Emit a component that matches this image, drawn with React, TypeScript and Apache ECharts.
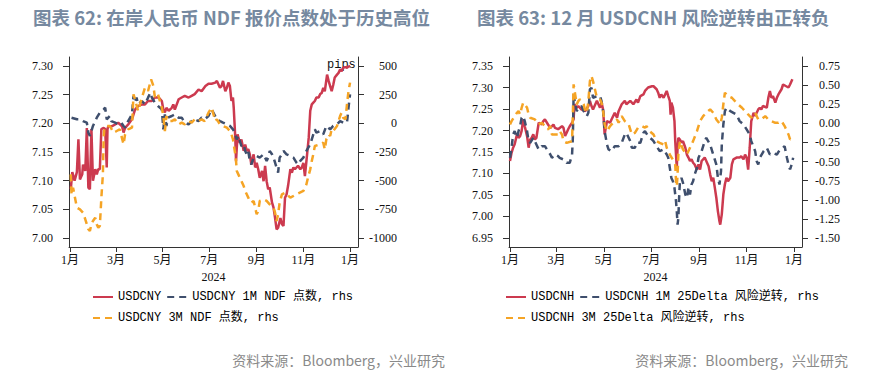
import React, { useEffect, useRef } from 'react';
import * as echarts from 'echarts';

// ---------- axis ticks ----------
const monthDays = [0, 60, 121, 182, 244, 305, 366];
const monthLabels = ['1月', '3月', '5月', '7月', '9月', '11月', '1月'];
const cnyTicks = [7.0, 7.05, 7.1, 7.15, 7.2, 7.25, 7.3];
const ndfTicks = [-1000, -750, -500, -250, 0, 250, 500];
const cnhTicks = [6.95, 7.0, 7.05, 7.1, 7.15, 7.2, 7.25, 7.3, 7.35];
const rrTicks = [-1.5, -1.25, -1.0, -0.75, -0.5, -0.25, 0, 0.25, 0.5, 0.75];

// ---------- chart 62: USDCNY & NDF points (day offset from 2024-01-01) ----------
const cnyDays = [1,3,6,9,11,13,16,17,20,22,24,26,28,30,33,35,37,39,41,44,46,48,49,50,55,59,63,68,70,72,76,81,85,89,94,98,102,107,111,116,120,122,124,126,129,133,135,137,142,146,150,155,159,163,168,172,177,181,185,190,192,196,198,200,203,205,207,209,211,213,214,216,217,219,222,224,227,229,231,233,235,237,240,242,244,246,248,251,253,255,257,259,261,264,266,268,270,272,275,277,279,281,283,285,288,290,292,294,296,298,301,303,305,307,309,312,314,316,318,320,322,325,327,329,331,333,336,338,340,342,344,346,349,351,353,355,357,360,362,364,366];
const cnyValues = [7.085,7.115,7.100,7.115,7.172,7.102,7.111,7.128,7.117,7.192,7.088,7.085,7.19,7.100,7.12,7.111,7.12,7.12,7.19,7.192,7.19,7.123,7.19,7.195,7.195,7.198,7.201,7.195,7.184,7.192,7.198,7.207,7.224,7.230,7.233,7.233,7.239,7.239,7.245,7.245,7.239,7.224,7.219,7.227,7.222,7.227,7.233,7.224,7.242,7.245,7.248,7.245,7.248,7.251,7.259,7.256,7.265,7.269,7.269,7.271,7.274,7.262,7.265,7.274,7.256,7.262,7.271,7.265,7.239,7.245,7.227,7.175,7.134,7.181,7.166,7.172,7.152,7.163,7.152,7.155,7.146,7.128,7.146,7.123,7.131,7.12,7.105,7.117,7.099,7.126,7.099,7.085,7.088,7.062,7.053,7.035,7.015,7.018,7.035,7.024,7.021,7.070,7.076,7.091,7.120,7.114,7.123,7.120,7.123,7.126,7.12,7.123,7.131,7.108,7.134,7.175,7.222,7.233,7.236,7.239,7.245,7.245,7.251,7.253,7.262,7.256,7.285,7.274,7.265,7.256,7.267,7.280,7.285,7.288,7.294,7.291,7.297,7.298,7.297,7.299,7.300];

const ndf1mDays = [2,9,13,17,22,24,26,30,35,39,44,46,48,52,54,59,63,67,70,72,76,81,83,85,87,89,94,98,102,105,107,111,115,120,122,124,126,128,133,137,142,146,150,155,159,163,168,172,176,181,185,192,196,200,205,209,213,216,218,220,222,224,227,229,231,233,235,237,240,244,248,253,257,259,261,264,266,270,272,274,277,279,283,288,292,296,298,301,305,309,314,318,320,322,327,331,335,340,344,349,353,357,362,364,366];
const ndf1mValues = [49,35,35,20,6,-81,-110,-23,49,93,122,137,35,64,20,6,-9,6,-23,-38,20,78,238,180,224,166,195,166,224,267,224,180,151,122,-52,78,-23,49,64,78,49,49,6,-9,20,35,20,49,35,64,122,35,20,6,-9,-23,-52,-96,-140,-110,-154,-198,-183,-241,-270,-241,-328,-358,-299,-285,-299,-270,-328,-299,-241,-270,-299,-387,-430,-299,-270,-241,-270,-285,-299,-343,-358,-328,-299,-241,-183,-96,-52,-81,-67,-96,-23,-52,-23,-9,20,6,6,137,253];

const ndf3mDays = [1,2,4,9,13,17,20,24,26,28,30,33,35,37,39,41,43,44,45,48,52,57,61,65,70,72,76,81,83,85,89,94,98,102,106,109,111,115,120,122,124,126,128,133,137,142,146,150,155,159,163,168,172,176,181,185,190,192,196,200,205,209,211,213,216,217,218,220,222,224,227,229,231,233,235,237,240,242,244,246,248,253,257,261,266,268,270,272,274,277,281,288,296,305,307,309,311,314,316,318,320,327,331,333,335,338,340,342,344,349,351,353,355,357,360,362,364,366];
const ndf3mValues = [-445,-619,-561,-735,-750,-779,-837,-924,-939,-881,-852,-823,-881,-910,-895,-648,-445,-125,-38,-23,-23,-81,-67,-52,-183,-96,-52,-38,253,209,108,224,311,282,384,326,224,253,137,64,-67,64,20,20,35,-9,6,-9,20,6,35,20,35,20,93,137,20,35,-9,-23,-38,-67,-96,-140,-270,-328,-416,-445,-474,-503,-547,-590,-619,-648,-677,-692,-677,-735,-793,-765,-677,-663,-677,-706,-735,-779,-852,-793,-692,-619,-605,-648,-619,-590,-561,-532,-474,-401,-328,-270,-198,-183,-169,-227,-140,-96,-110,-52,-67,-23,20,64,93,49,35,166,282,355];

// ---------- chart 63: USDCNH & 25Delta risk reversals ----------
const cnhDays = [0,2,4,6,9,11,13,15,17,19,22,24,26,28,30,32,34,37,41,43,45,49,52,56,58,62,67,69,71,73,75,77,80,82,83,86,88,92,97,101,103,105,107,110,112,116,118,120,122,125,129,131,135,138,140,144,148,150,155,159,163,165,168,172,174,178,183,185,189,191,193,195,198,202,204,206,207,208,210,212,213,214,215,216,217,219,221,223,226,228,230,232,234,236,238,241,243,245,247,251,256,258,260,262,264,266,268,270,271,273,275,277,279,281,284,286,288,292,296,298,301,303,305,307,309,311,314,316,320,322,324,326,331,333,335,337,339,342,344,346,350,352,356,359,361,363,364];
const cnhValues = [7.129,7.148,7.160,7.168,7.191,7.183,7.187,7.199,7.226,7.210,7.187,7.160,7.179,7.183,7.191,7.179,7.183,7.218,7.214,7.222,7.226,7.214,7.206,7.214,7.206,7.203,7.210,7.206,7.187,7.195,7.203,7.210,7.218,7.226,7.261,7.253,7.257,7.249,7.245,7.257,7.269,7.257,7.249,7.261,7.269,7.253,7.265,7.249,7.191,7.222,7.218,7.226,7.241,7.230,7.245,7.261,7.269,7.261,7.269,7.261,7.272,7.265,7.280,7.284,7.292,7.300,7.303,7.303,7.296,7.288,7.276,7.284,7.276,7.292,7.280,7.269,7.237,7.265,7.253,7.222,7.175,7.144,7.113,7.160,7.183,7.179,7.172,7.175,7.160,7.144,7.137,7.129,7.133,7.125,7.121,7.109,7.121,7.109,7.129,7.137,7.117,7.098,7.082,7.090,7.067,7.043,7.012,6.989,6.981,7.005,7.051,7.075,7.090,7.082,7.090,7.121,7.133,7.137,7.137,7.140,7.133,7.144,7.137,7.109,7.160,7.222,7.241,7.234,7.249,7.253,7.249,7.257,7.253,7.276,7.292,7.276,7.280,7.265,7.276,7.284,7.296,7.307,7.303,7.300,7.307,7.315,7.319];

const rr1mDays = [0,2,4,6,9,11,13,15,17,19,22,24,26,30,32,34,37,41,45,49,52,54,58,62,64,69,73,77,80,81,82,84,86,88,92,95,99,101,103,105,107,112,116,118,120,122,125,127,131,135,140,144,148,150,155,157,161,163,168,172,174,178,183,185,189,193,198,202,204,206,208,210,212,214,215,216,217,218,219,221,223,226,228,230,232,234,236,238,241,243,247,251,253,258,262,266,268,270,272,273,275,277,279,284,288,292,296,301,305,309,311,316,318,320,322,327,331,335,339,344,348,352,354,357,359,361,363,365];
const rr1mValues = [-0.451,-0.320,-0.146,-0.102,-0.189,-0.102,-0.036,0.073,0.095,0.029,-0.102,-0.233,-0.255,-0.189,-0.233,-0.277,-0.342,-0.299,-0.299,-0.364,-0.408,-0.451,-0.408,-0.430,-0.451,-0.473,-0.517,-0.517,-0.408,-0.189,0.379,0.248,0.160,0.204,0.226,0.160,0.095,0.138,0.444,0.466,0.335,0.357,0.357,0.291,0.160,-0.102,-0.277,-0.342,-0.364,-0.299,-0.299,-0.255,-0.146,-0.124,-0.233,-0.320,-0.320,-0.255,-0.255,-0.124,-0.102,-0.167,-0.211,-0.233,-0.299,-0.364,-0.342,-0.408,-0.451,-0.583,-0.714,-0.757,-0.845,-1.019,-1.150,-1.325,-1.238,-0.976,-0.757,-0.714,-0.779,-0.932,-0.976,-0.845,-0.932,-0.801,-0.757,-0.670,-0.583,-0.451,-0.364,-0.233,-0.189,-0.277,-0.408,-0.539,-0.714,-0.801,-0.626,-0.277,-0.015,0.160,0.204,0.160,0.138,0.116,0.029,-0.015,-0.080,-0.146,-0.233,-0.364,-0.495,-0.539,-0.451,-0.364,-0.320,-0.408,-0.386,-0.408,-0.342,-0.320,-0.299,-0.451,-0.539,-0.604,-0.539,-0.451];

const rr3mDays = [0,2,6,9,11,13,15,17,19,22,24,26,32,37,41,45,49,52,54,58,62,64,67,69,73,80,81,82,84,86,88,90,92,95,97,99,101,103,105,107,110,112,116,118,120,122,125,129,133,138,140,144,148,153,155,157,161,165,170,174,176,180,185,189,193,198,200,202,204,206,211,213,214,215,216,217,219,223,228,232,236,241,245,249,253,258,262,266,271,273,275,277,281,286,290,294,299,303,307,311,314,316,320,324,329,333,337,342,346,350,354,357,359,361,365];
const rr3mValues = [-0.015,0.029,0.095,0.138,0.160,0.116,0.204,0.269,0.248,0.204,0.116,0.073,0.051,-0.015,0.007,-0.036,-0.080,-0.036,-0.146,-0.146,-0.146,-0.102,-0.146,-0.233,-0.255,-0.233,0.116,0.510,0.379,0.248,0.291,0.313,0.291,0.248,0.160,0.138,0.291,0.553,0.619,0.553,0.422,0.335,0.313,0.269,0.160,-0.015,-0.102,-0.036,0.007,0.051,0.007,0.095,0.029,-0.015,-0.080,-0.146,-0.124,-0.058,-0.036,-0.058,-0.036,-0.102,-0.146,-0.233,-0.255,-0.277,-0.233,-0.320,-0.364,-0.408,-0.495,-0.539,-0.757,-0.823,-0.670,-0.408,-0.233,-0.342,-0.408,-0.320,-0.233,-0.102,0.029,0.095,0.138,0.182,0.138,0.051,-0.015,0.073,0.248,0.400,0.357,0.335,0.291,0.248,0.204,0.160,0.116,0.073,0.116,0.138,0.051,0.051,0.095,0.051,0.029,0.007,0.007,0.029,-0.036,-0.102,-0.146,-0.211,-0.189];

// ---------- text ----------
const title1 = '图表 62: 在岸人民币 NDF 报价点数处于历史高位';
const title2 = '图表 63: 12 月 USDCNH 风险逆转由正转负';
const source = '资料来源：Bloomberg，兴业研究';
const names1 = ['USDCNY', 'USDCNY 1M NDF 点数, rhs', 'USDCNY 3M NDF 点数, rhs'];
const names2 = ['USDCNH', 'USDCNH 1M 25Delta 风险逆转, rhs', 'USDCNH 3M 25Delta 风险逆转, rhs'];

const RED = '#cc3a4f';
const BLUE = '#3f4f6d';
const ORANGE = '#f5a425';
const AXIS = '#333333';
const serif = "'Liberation Serif', 'Times New Roman', 'Noto Sans CJK SC', serif";
const mono = "'Liberation Mono', 'DejaVu Sans Mono', 'Noto Sans CJK SC', monospace";
const sans = "'Noto Sans CJK SC', 'Noto Sans', sans-serif";

const zip = (d: number[], v: number[]) => d.map((x, i) => [x, v[i]]);

function makeX(gridIndex: number) {
  return {
    type: 'value', gridIndex, min: -1.3, max: 376.4,
    splitLine: { show: false },
    axisLine: { show: true, onZero: false, lineStyle: { color: AXIS, width: 1 } },
    axisTick: { show: true, customValues: monthDays, length: 5, lineStyle: { color: AXIS } },
    axisLabel: {
      customValues: monthDays, margin: 7, fontFamily: serif, fontSize: 12, color: '#111',
      formatter: (v: number) => { const i = monthDays.indexOf(Math.round(v)); return i >= 0 ? monthLabels[i] : ''; },
    },
    name: '2024', nameLocation: 'middle', nameGap: 24,
    nameTextStyle: { fontFamily: serif, fontSize: 12, color: '#111' },
  };
}

function makeLeftY(gridIndex: number, min: number, max: number, ticks: number[]) {
  return {
    type: 'value', gridIndex, position: 'left', min, max,
    splitLine: { show: false },
    axisLine: { show: true, onZero: false, lineStyle: { color: AXIS, width: 1 } },
    axisTick: { show: true, customValues: ticks, length: 6, lineStyle: { color: AXIS } },
    axisLabel: {
      customValues: ticks, margin: 16, fontFamily: serif, fontSize: 12, color: '#111',
      formatter: (v: number) => v.toFixed(2),
    },
  };
}

function makeRightY(gridIndex: number, min: number, max: number, ticks: number[], fmt: (v: number) => string, w: number, margin: number) {
  return {
    type: 'value', gridIndex, position: 'right', min, max,
    splitLine: { show: false },
    axisLine: { show: true, onZero: false, lineStyle: { color: AXIS, width: 1 } },
    axisTick: { show: true, customValues: ticks, length: 6, lineStyle: { color: AXIS } },
    axisLabel: {
      customValues: ticks, margin,
      formatter: (v: number) => `{r|${fmt(v)}}`,
      rich: { r: { width: w, align: 'right', fontFamily: serif, fontSize: 12, color: '#111' } },
    },
  };
}

function line(name: string, xi: number, yi: number, data: number[][], color: string, dashed: boolean) {
  return {
    name, type: 'line', xAxisIndex: xi, yAxisIndex: yi, data,
    symbol: 'none', showSymbol: false,
    lineStyle: { color, width: 2.5, type: dashed ? [7, 5] : 'solid' },
    itemStyle: { color },
  };
}

const legendText = { fontFamily: mono, fontSize: 12, color: '#000' };
function legend(left: number, top: number, data: string[]) {
  return {
    left, top, itemWidth: 20, itemHeight: 10, itemGap: 5, data,
    textStyle: legendText,
    itemStyle: { opacity: 0 },
  };
}

export default function App() {
  const ref = useRef<HTMLDivElement>(null);
  useEffect(() => {
    document.body.style.margin = '0';
    if (!ref.current) return;
    const chart = echarts.init(ref.current, undefined, { renderer: 'svg' });
    chart.setOption({
      animation: false,
      backgroundColor: '#ffffff',
      grid: [
        { left: 69, top: 57, width: 289, height: 190 },
        { left: 509, top: 57, width: 293, height: 190 },
      ],
      xAxis: [makeX(0), makeX(1)],
      yAxis: [
        makeLeftY(0, 6.9843, 7.3157, cnyTicks),
        makeRightY(0, -1078.5, 578.5, ndfTicks, (v) => String(Math.round(v)), 28, 11),
        makeLeftY(1, 6.929, 7.371, cnhTicks),
        makeRightY(1, -1.618, 0.868, rrTicks, (v) => v.toFixed(2), 30, 8),
      ],
      legend: [
        legend(87, 286, [names1[0], names1[1]]),
        legend(87, 307, [names1[2]]),
        legend(500, 286, [names2[0], names2[1]]),
        legend(500, 307, [names2[2]]),
      ],
      series: [
        line(names1[0], 0, 0, zip(cnyDays, cnyValues), RED, false),
        line(names1[1], 0, 1, zip(ndf1mDays, ndf1mValues), BLUE, true),
        line(names1[2], 0, 1, zip(ndf3mDays, ndf3mValues), ORANGE, true),
        line(names2[0], 1, 2, zip(cnhDays, cnhValues), RED, false),
        line(names2[1], 1, 3, zip(rr1mDays, rr1mValues), BLUE, true),
        line(names2[2], 1, 3, zip(rr3mDays, rr3mValues), ORANGE, true),
      ],
      graphic: [
        { type: 'text', left: 33, top: 8, style: { text: title1, fontFamily: sans, fontSize: 18.5, fontWeight: 'bold', fill: '#7689a0' } },
        { type: 'text', left: 477, top: 8, style: { text: title2, fontFamily: sans, fontSize: 18.5, fontWeight: 'bold', fill: '#7689a0' } },
        { type: 'text', right: 883 - 445, top: 353, style: { text: source, fontFamily: sans, fontSize: 14, fill: '#8a8a8a' } },
        { type: 'text', right: 883 - 848, top: 353, style: { text: source, fontFamily: sans, fontSize: 14, fill: '#8a8a8a' } },
        { type: 'text', left: 327, top: 59, style: { text: 'pips', fontFamily: mono, fontSize: 12, fill: '#111' } },
      ],
    });
    return () => chart.dispose();
  }, []);
  return <div ref={ref} style={{ width: 883, height: 376 }} />;
}
